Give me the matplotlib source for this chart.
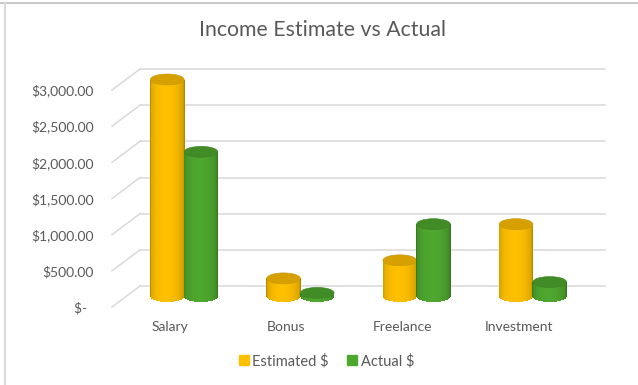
"""Income Estimate vs Actual - Excel style 3D cylinder chart."""

import matplotlib
matplotlib.use("Agg")
import matplotlib.pyplot as plt
from matplotlib.lines import Line2D
from matplotlib.patches import Ellipse
import numpy as np


categories = ["Salary", "Bonus", "Freelance", "Investment"]
estimated = [3000, 250, 500, 1000]
actual = [2000, 50, 1000, 200]
series_names = ["Estimated $", "Actual $"]
y_ticks = [0, 500, 1000, 1500, 2000, 2500, 3000]

GOLD = np.array([255, 192, 0]) / 255
GREEN = np.array([78, 167, 46]) / 255
TEXT = "#595959"
GRID = "#D9D9D9"

plt.rcParams["font.family"] = ["Lato", "DejaVu Sans"]

W, H = 638, 385
fig = plt.figure(figsize=(W / 100, H / 100), dpi=100)

# front plane of the plot box, in pixels
left, right, bottom, top = 112, 577, 78, 295
ax = fig.add_axes([left / W, bottom / H, (right - left) / W, (top - bottom) / H])
ax.set_xlim(-0.5, 3.5)
ax.set_ylim(0, 3000)
for s in ax.spines.values():
    s.set_visible(False)

px_x = (right - left) / 4.0
px_y = (top - bottom) / 3000.0
back_dx, back_dy = 28 / px_x, 21 / px_y   # depth offset of back wall
mid_dx, mid_dy = back_dx / 2, back_dy / 2

# back wall gridlines + left wall diagonals
for v in y_ticks:
    ax.plot([-0.5 + back_dx, 3.5 + back_dx], [v + back_dy] * 2, color=GRID,
            lw=1.1, clip_on=False, zorder=1)
    ax.plot([-0.5, -0.5 + back_dx], [v, v + back_dy], color=GRID,
            lw=1.1, clip_on=False, zorder=1)


def cylinder(xc, value, width, base, z):
    xc = xc + mid_dx
    y0 = mid_dy
    eh = 11 / px_y                  # ellipse height in value units
    n = 48
    t = np.linspace(-1, 1, n)
    xs = xc + t * width / 2
    shade = 0.74 + 0.26 * np.sqrt(1 - t ** 2) ** 0.7
    shade = shade - 0.04 * np.clip(t, 0, 1)
    cols = [np.clip(base * s, 0, 1) for s in shade]
    bottoms = y0 - eh / 2 * np.sqrt(1 - t ** 2)
    heights = y0 + value - bottoms
    ax.bar(xs, heights, width=width / n * 1.15, bottom=bottoms, color=cols,
           linewidth=0, clip_on=False, zorder=z)
    ax.add_patch(Ellipse((xc, y0 + value), width, eh, facecolor=np.clip(base * 0.84, 0, 1),
                         edgecolor=np.clip(base * 0.78, 0, 1), lw=0.4,
                         clip_on=False, zorder=z + 0.5))


bw = 0.29
for i in range(len(categories)):
    cylinder(i - bw / 2, estimated[i], bw, GOLD, 3)
    cylinder(i + bw / 2, actual[i], bw, GREEN, 4)

ax.set_xticks(range(len(categories)))
ax.set_xticklabels(categories)
ax.set_yticks(y_ticks)
ax.set_yticklabels([f"${v:,.2f}" if v else "$-  " for v in y_ticks])
ax.tick_params(axis="both", length=0, labelsize=10, colors=TEXT)
ax.tick_params(axis="x", pad=10)
ax.tick_params(axis="y", pad=13)

fig.text(0.505, 1 - 30 / H, "Income Estimate vs Actual", ha="center", va="center",
         fontsize=15.3, color=TEXT)

handles = [Line2D([], [], marker="s", ls="", markersize=6.5, color=GOLD),
           Line2D([], [], marker="s", ls="", markersize=6.5, color=GREEN)]
fig.legend(handles, series_names, loc="center", bbox_to_anchor=(0.51, 1 - 361 / H),
           ncol=2, frameon=False, fontsize=10.5, labelcolor=TEXT, handletextpad=0.1,
           columnspacing=1.1, handlelength=1.0)

# sheet edges around the chart object
fig.add_artist(Line2D([0, 1], [1 - 2.5 / H] * 2, color="#BFBFBF", lw=1.2))
fig.add_artist(Line2D([4.5 / W] * 2, [0, 1 - 3 / H], color="#D9D9D9", lw=1.5))

fig.savefig("out.png", dpi=100, facecolor="white")
